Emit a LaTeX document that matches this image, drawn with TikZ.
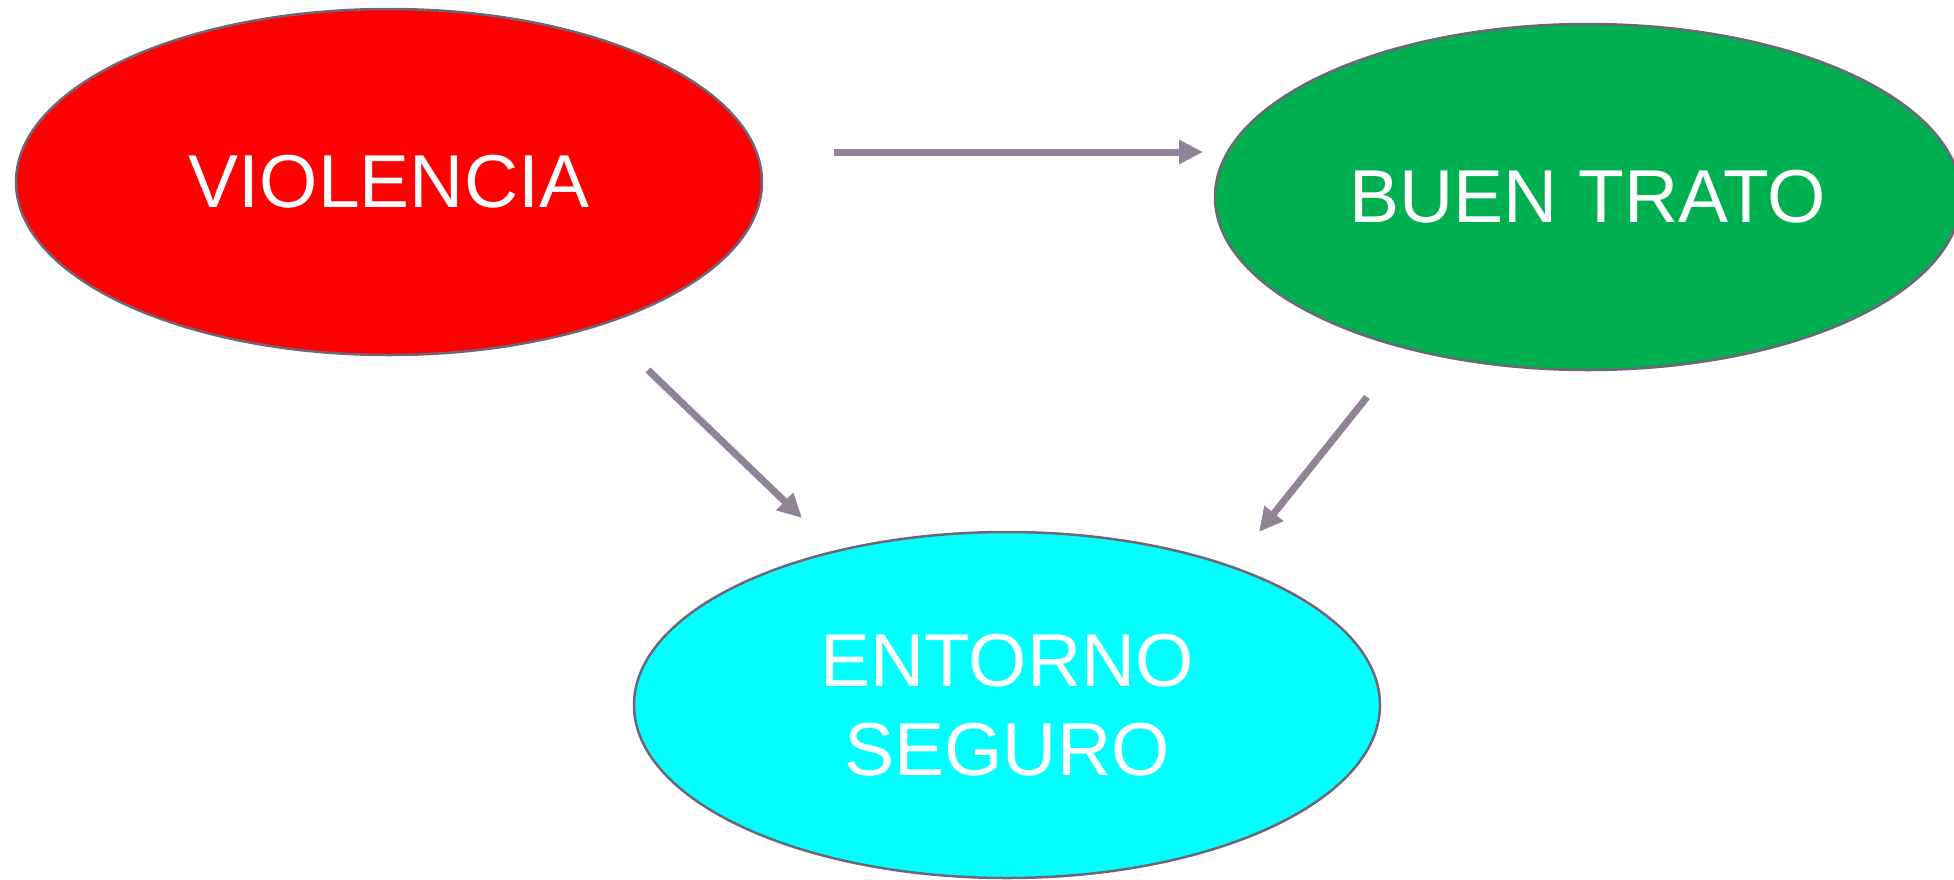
\documentclass[tikz,border=0pt]{standalone}
\usepackage{fontspec}
\setmainfont{Liberation Sans}
\usetikzlibrary{arrows.meta,shapes.geometric}
\definecolor{rojo}{HTML}{FF0000}
\definecolor{verde}{HTML}{00AF50}
\definecolor{cian}{HTML}{00FFFF}
\definecolor{borde}{HTML}{6E6677}
\definecolor{flecha}{HTML}{8F8395}

\begin{document}
\begin{tikzpicture}[x=1pt,y=-1pt,
  oval/.style={ellipse,draw=borde,line width=2.5pt,inner sep=0pt,
    minimum width=746pt,minimum height=346pt,
    text=white,font=\fontsize{75}{89}\selectfont,align=center},
  flechita/.style={draw=flecha,line width=7pt,-{Triangle[length=24pt,width=23pt]}}]
  \useasboundingbox (0,0) rectangle (1954,879);
  % ovalos con sus textos
  \node[oval,fill=rojo] (violencia) at (389,182) {VIOLENCIA};
  \node[oval,fill=verde] (buentrato) at (1588,197) {BUEN TRATO};
  \node[oval,fill=cian] (entorno) at (1007,705) {ENTORNO\\SEGURO};
  % flechas
  \coordinate (a1) at (834,152);
  \coordinate (b1) at (1203,152);
  \coordinate (a2) at (648,370);
  \coordinate (b2) at (802,518);
  \coordinate (a3) at (1367,397);
  \coordinate (b3) at (1259,532);
  \draw[flechita] (a1) -- (b1);
  \draw[flechita] (a2) -- (b2);
  \draw[flechita] (a3) -- (b3);
\end{tikzpicture}
\end{document}
